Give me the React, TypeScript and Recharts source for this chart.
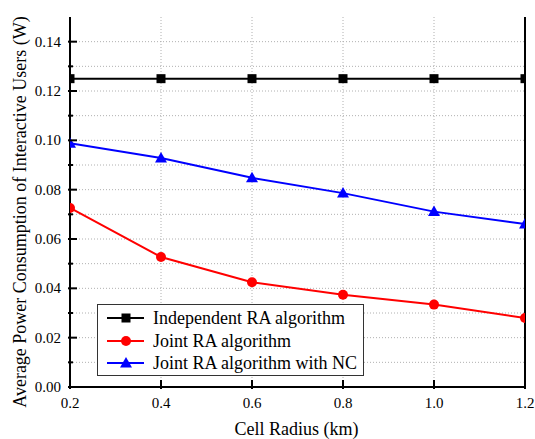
import { LineChart, Line, XAxis, YAxis, CartesianGrid, Legend } from 'recharts';

const radius = [0.2, 0.4, 0.6, 0.8, 1.0, 1.2];
const independentRA = [0.125, 0.125, 0.125, 0.125, 0.125, 0.125];
const jointRA = [0.0726, 0.0527, 0.0425, 0.0374, 0.0334, 0.028];
const jointRANC = [0.0988, 0.0928, 0.0848, 0.0786, 0.0711, 0.0661];

const xTicks = [0.2, 0.4, 0.6, 0.8, 1.0, 1.2];
const yTicks = [0, 0.01, 0.02, 0.03, 0.04, 0.05, 0.06, 0.07, 0.08, 0.09, 0.1, 0.11, 0.12, 0.13, 0.14, 0.15];
const gridY = [0.01, 0.02, 0.03, 0.04, 0.05, 0.06, 0.07, 0.08, 0.09, 0.1, 0.11, 0.12, 0.13, 0.14];
const gridX = [0.4, 0.6, 0.8, 1.0];

const seriesNames = ['Independent RA algorithm', 'Joint RA algorithm', 'Joint RA algorithm with NC'];
const seriesColors = ['#000000', '#ff0000', '#0000ff'];

const data = radius.map((r, i) => ({
  r,
  ind: independentRA[i],
  joint: jointRA[i],
  nc: jointRANC[i],
}));

const FONT = '"Liberation Serif", "Times New Roman", serif';

function Square(props: any) {
  const { cx, cy, fill } = props;
  if (cx == null || cy == null) return null;
  return <rect x={cx - 4.5} y={cy - 4.5} width={9} height={9} fill={fill} />;
}

function Circle(props: any) {
  const { cx, cy, fill } = props;
  if (cx == null || cy == null) return null;
  return <circle cx={cx} cy={cy} r={5} fill={fill} />;
}

function Triangle(props: any) {
  const { cx, cy, fill } = props;
  if (cx == null || cy == null) return null;
  return <polygon points={`${cx},${cy - 6} ${cx - 6},${cy + 4.5} ${cx + 6},${cy + 4.5}`} fill={fill} />;
}

function YTick(props: any) {
  const { x, y, payload } = props;
  const v = Math.round(payload.value * 100);
  if (v === 15) return null;
  const major = v % 2 === 0;
  const ax = x + 8;
  return (
    <g>
      <line x1={ax - 2} y1={y} x2={ax + (major ? 7 : 3)} y2={y} stroke="#000" strokeWidth={2} />
      {major && (
        <text x={x - 1} y={y} dy={5} textAnchor="end" fontSize={15} fontFamily={FONT} fill="#000">
          {payload.value.toFixed(2)}
        </text>
      )}
    </g>
  );
}

function XTick(props: any) {
  const { x, y, payload } = props;
  const ay = y - 8;
  return (
    <g>
      <line x1={x} y1={ay + 2} x2={x} y2={ay - 7} stroke="#000" strokeWidth={2} />
      <text x={x} y={ay} dy={21} textAnchor="middle" fontSize={15} fontFamily={FONT} fill="#000">
        {payload.value.toFixed(1)}
      </text>
    </g>
  );
}

function YLabel(props: any) {
  const { viewBox } = props;
  const cx = viewBox.x + 20;
  const cy = viewBox.y + viewBox.height / 2 + 10;
  return (
    <text
      x={cx}
      y={cy}
      dy={6}
      transform={`rotate(-90 ${cx} ${cy})`}
      textAnchor="middle"
      fontSize={18}
      fontFamily={FONT}
      fill="#000"
    >
      Average Power Consumption of Interactive Users (W)
    </text>
  );
}

function XLabel(props: any) {
  const { viewBox } = props;
  const cx = viewBox.x + viewBox.width / 2;
  return (
    <text x={cx - 1} y={viewBox.y + 48} textAnchor="middle" fontSize={18} fontFamily={FONT} fill="#000">
      Cell Radius (km)
    </text>
  );
}

function LegendBox() {
  const icons = [Square, Circle, Triangle];
  return (
    <div
      style={{
        width: 265,
        height: 68,
        border: '1px solid #333',
        background: '#fff',
        fontFamily: FONT,
        fontSize: 18,
        boxSizing: 'content-box',
        paddingTop: 2,
      }}
    >
      {seriesNames.map((name, i) => {
        const Icon = icons[i];
        return (
          <div key={name} style={{ display: 'flex', alignItems: 'center', height: 22.5 }}>
            <svg width={49} height={20} style={{ marginLeft: 6 }}>
              <line x1={3} y1={10} x2={40} y2={10} stroke={seriesColors[i]} strokeWidth={2} />
              <Icon cx={22} cy={10} fill={seriesColors[i]} />
            </svg>
            <span style={{ color: '#000', lineHeight: '20px', whiteSpace: 'nowrap' }}>{name}</span>
          </div>
        );
      })}
    </div>
  );
}

export default function App() {
  return (
    <div style={{ position: 'absolute', left: 0, top: 0, background: '#fff' }}>
      <LineChart width={535} height={439} data={data} margin={{ top: 17, right: 0, bottom: 0, left: 0 }}>
        <CartesianGrid
          horizontalValues={gridY}
          verticalValues={gridX}
          stroke="#b0b0b0"
          strokeDasharray="1 2"
        />
        <XAxis
          dataKey="r"
          type="number"
          domain={[0.2, 1.2]}
          ticks={xTicks}
          allowDataOverflow
          height={52}
          tickLine={false}
          tick={<XTick />}
          axisLine={{ stroke: '#000', strokeWidth: 2 }}
          label={<XLabel />}
        />
        <XAxis xAxisId="top" orientation="top" dataKey="r" type="number" domain={[0.2, 1.2]} height={0} tick={false} tickLine={false} axisLine={{ stroke: '#000', strokeWidth: 2 }} />
        <YAxis
          type="number"
          domain={[0, 0.15]}
          ticks={yTicks}
          allowDataOverflow
          width={70}
          tickLine={false}
          tick={<YTick />}
          interval={0}
          axisLine={{ stroke: '#000', strokeWidth: 2 }}
          label={<YLabel />}
        />
        <YAxis yAxisId="right" orientation="right" domain={[0, 0.15]} width={10} tick={false} tickLine={false} axisLine={{ stroke: '#000', strokeWidth: 2 }} />
        <Legend
          layout="vertical"
          verticalAlign="middle"
          align="center"
          wrapperStyle={{ left: 97, top: 304, width: 267 }}
          content={<LegendBox />}
        />
        <Line dataKey="ind" name={seriesNames[0]} stroke={seriesColors[0]} strokeWidth={2} dot={<Square fill={seriesColors[0]} />} isAnimationActive={false} />
        <Line dataKey="joint" name={seriesNames[1]} stroke={seriesColors[1]} strokeWidth={2} dot={<Circle fill={seriesColors[1]} />} isAnimationActive={false} />
        <Line dataKey="nc" name={seriesNames[2]} stroke={seriesColors[2]} strokeWidth={2} dot={<Triangle fill={seriesColors[2]} />} isAnimationActive={false} />
      </LineChart>
    </div>
  );
}
